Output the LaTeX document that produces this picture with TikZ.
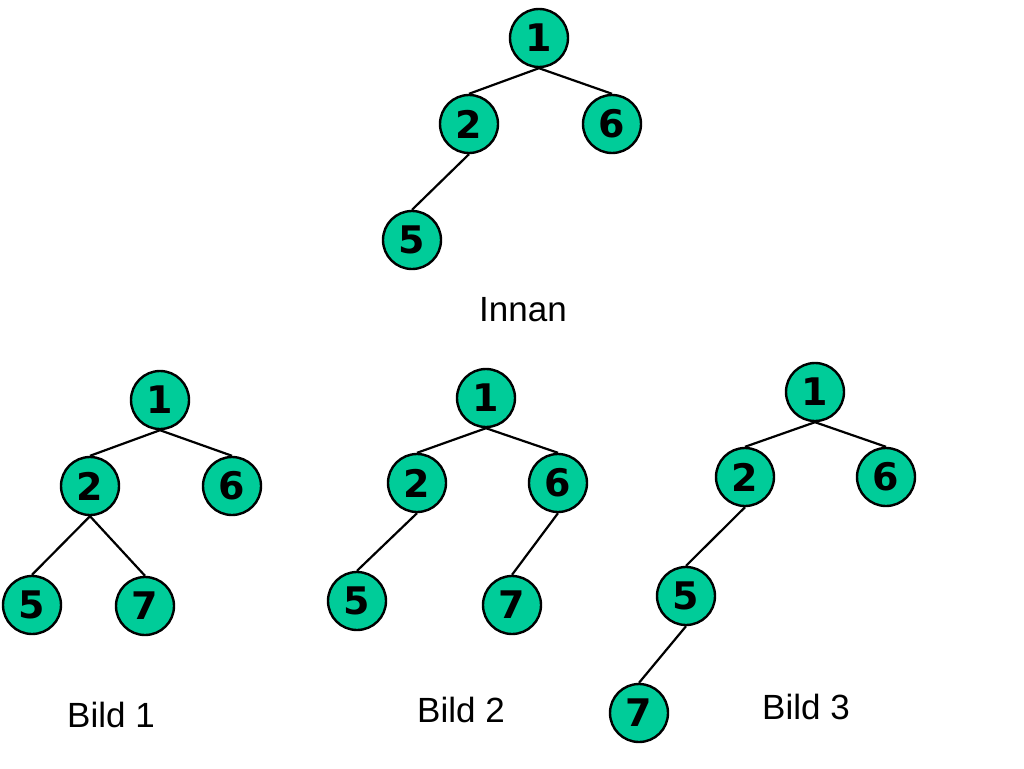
\documentclass[tikz,border=0pt]{standalone}
\usepackage{fontspec}
\setmainfont{Liberation Sans}
\newfontfamily\numfont{DejaVu Sans}
\definecolor{nodegreen}{RGB}{0,204,153}
\tikzset{
  tnode/.style={circle, draw=black, line width=2.4pt, fill=nodegreen, minimum size=58pt, inner sep=0pt,
    font=\numfont\bfseries\fontsize{38}{40}\selectfont},
  edge/.style={draw=black, line width=2.2pt},
  caption/.style={font=\fontsize{35}{40}\selectfont, inner sep=0pt}
}
\begin{document}
\begin{tikzpicture}[x=1pt,y=-1pt]
\useasboundingbox (0,0) rectangle (1024,768);
% Innan
\node[tnode] (a1) at (539,38) {1};
\node[tnode] (a2) at (469,124) {2};
\node[tnode] (a6) at (612,124) {6};
\node[tnode] (a5) at (412,240) {5};
\draw[edge] (a1.south) -- (a2.north);
\draw[edge] (a1.south) -- (a6.north);
\draw[edge] (a2.south) -- (a5.north);
\node[caption] (la) at (523,310) {Innan};
% Bild 1
\node[tnode] (b1) at (160,400) {1};
\node[tnode] (b2) at (90,486) {2};
\node[tnode] (b6) at (232,486) {6};
\node[tnode] (b5) at (32,605) {5};
\node[tnode] (b7) at (145,606) {7};
\draw[edge] (b1.south) -- (b2.north);
\draw[edge] (b1.south) -- (b6.north);
\draw[edge] (b2.south) -- (b5.north);
\draw[edge] (b2.south) -- (b7.north);
\node[caption] (lb) at (111,715) {Bild 1};
% Bild 2
\node[tnode] (c1) at (486,398) {1};
\node[tnode] (c2) at (417,483) {2};
\node[tnode] (c6) at (558,483) {6};
\node[tnode] (c5) at (357,601) {5};
\node[tnode] (c7) at (512,605) {7};
\draw[edge] (c1.south) -- (c2.north);
\draw[edge] (c1.south) -- (c6.north);
\draw[edge] (c2.south) -- (c5.north);
\draw[edge] (c6.south) -- (c7.north);
\node[caption] (lc) at (461,710) {Bild 2};
% Bild 3
\node[tnode] (d1) at (815,392) {1};
\node[tnode] (d2) at (745,477) {2};
\node[tnode] (d6) at (886,477) {6};
\node[tnode] (d5) at (686,596) {5};
\node[tnode] (d7) at (639,713) {7};
\draw[edge] (d1.south) -- (d2.north);
\draw[edge] (d1.south) -- (d6.north);
\draw[edge] (d2.south) -- (d5.north);
\draw[edge] (d5.south) -- (d7.north);
\node[caption] (ld) at (806,707) {Bild 3};
\end{tikzpicture}
\end{document}
